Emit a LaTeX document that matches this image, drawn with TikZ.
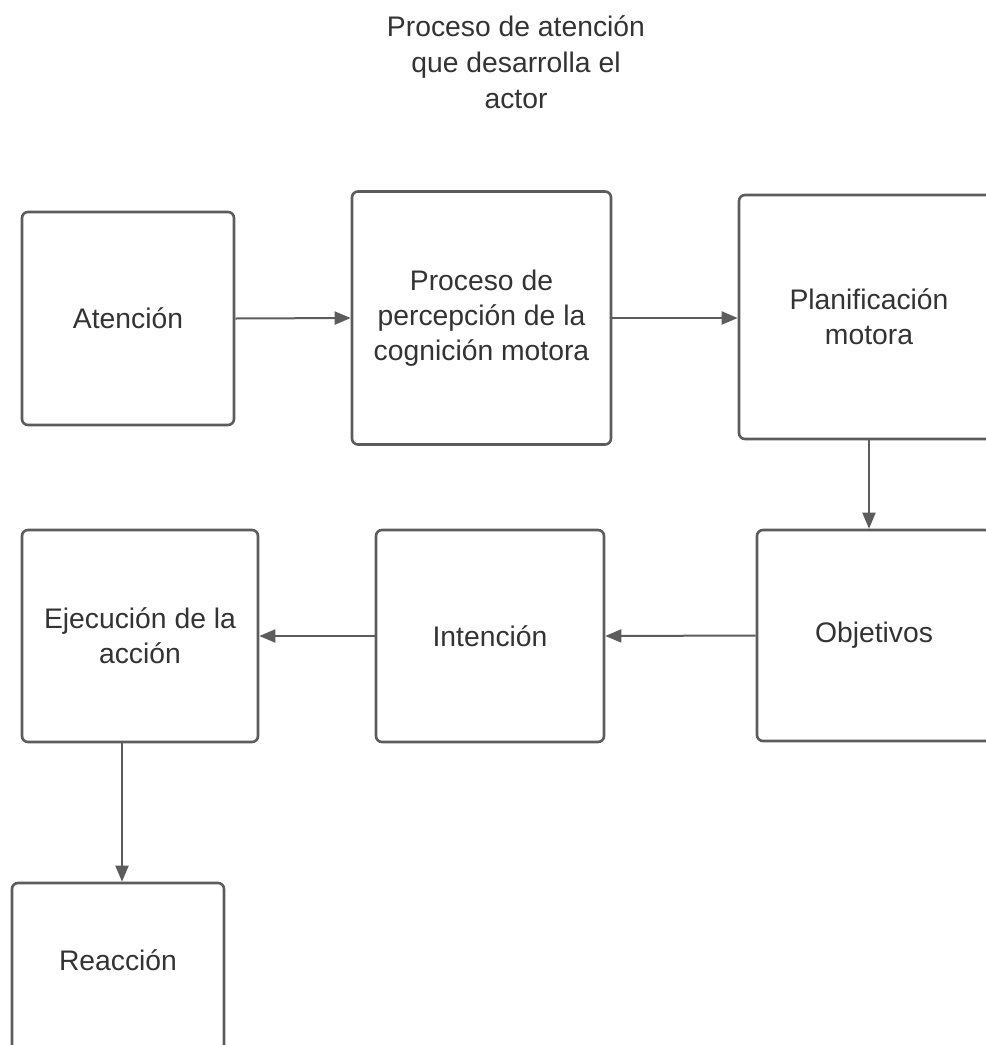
\documentclass[tikz,border=0pt]{standalone}
\usepackage{fontspec}
\setmainfont{Liberation Sans}
\usepackage{tikz}
\usetikzlibrary{arrows.meta, positioning}

\definecolor{linegray}{HTML}{5C5C5C}
\definecolor{textgray}{HTML}{333333}

\tikzset{
  caja/.style={draw=linegray, line width=2.6pt, rounded corners=6pt, fill=white,
    text=textgray, align=center, inner sep=0pt,
    font=\fontsize{28.3}{35}\selectfont},
  flecha/.style={-{Triangle[length=16pt, width=13pt]}, draw=linegray, line width=2pt}
}

\begin{document}
\begin{tikzpicture}[x=1pt, y=-1pt]
  \useasboundingbox (0,0) rectangle (986,1045);
  \clip (0,0) rectangle (986,1045);
  % Titulo
  \node[text=textgray, align=center, font=\fontsize{28.3}{36}\selectfont] (titulo) at (516,62)
    {Proceso de atención\\que desarrolla el\\actor};
  % Fila superior
  \node[caja, minimum width=212pt, minimum height=213pt] (aten) at (128,318.5) {Atención};
  \node[caja, minimum width=259pt, minimum height=253pt] (proc) at (481.5,318)
    {Proceso de\\percepción de la\\cognición motora};
  \node[caja, minimum width=260pt, minimum height=244pt] (plan) at (869,317)
    {Planificación\\motora};
  % Fila central
  \node[caja, minimum width=234pt, minimum height=211pt] (obj) at (874,635.5) {Objetivos};
  \node[caja, minimum width=228pt, minimum height=212pt] (inten) at (490,636) {Intención};
  \node[caja, minimum width=236pt, minimum height=212pt] (ejec) at (140,636)
    {Ejecución de la\\acción};
  % Reaccion
  \node[caja, minimum width=212pt, minimum height=212pt, text depth=58pt] (reac) at (118,989)
    {Reacción};
  % Conexiones
  \draw[flecha] (aten.east) -- (proc.west);
  \draw[flecha] (proc.east) -- (plan.west |- proc.east);
  \draw[flecha] (plan.south) -- (plan.south |- obj.north);
  \draw[flecha] (obj.west) -- (inten.east);
  \draw[flecha] (inten.west) -- (ejec.east);
  \draw[flecha] (ejec.south -| 122,0) -- (reac.north -| 122,0);
\end{tikzpicture}
\end{document}
